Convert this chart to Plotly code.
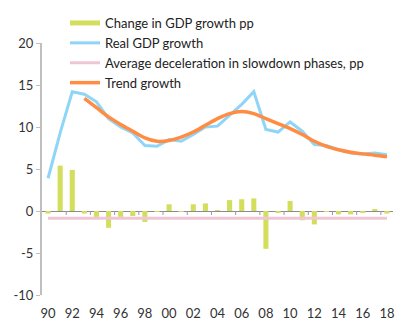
import plotly.graph_objects as go

years = list(range(1990, 2019))
change_pp = [-0.3, 5.4, 4.9, -0.3, -0.7, -2.0, -0.7, -0.6, -1.3, -0.1, 0.8, -0.1, 0.8, 0.9, 0.1,
             1.3, 1.4, 1.5, -4.5, -0.2, 1.2, -1.1, -1.6, -0.1, -0.4, -0.4, -0.2, 0.2, -0.3]
real_gdp = [3.9, 9.3, 14.2, 13.9, 13.0, 11.0, 10.0, 9.3, 7.8, 7.7, 8.5, 8.3, 9.1, 10.0, 10.1,
            11.4, 12.7, 14.2, 9.7, 9.4, 10.6, 9.5, 7.9, 7.8, 7.3, 6.9, 6.8, 6.9, 6.7]
avg_decel = -0.85
trend_years = list(range(1993, 2019))
trend = [13.4, 12.3, 11.2, 10.3, 9.5, 8.7, 8.3, 8.4, 8.8, 9.4, 10.2, 11.0, 11.6, 11.85, 11.6,
         11.0, 10.4, 9.8, 9.1, 8.3, 7.7, 7.3, 7.0, 6.8, 6.65, 6.45]
x_tick_vals = list(range(1990, 2019, 2))
x_tick_text = ["90", "92", "94", "96", "98", "00", "02", "04", "06", "08", "10", "12", "14", "16", "18"]
y_tick_vals = [-10, -5, 0, 5, 10, 15, 20]
y_tick_text = ["-10", "-5", "0", "5", "10", "15", "20"]
zero_tick_positions = [y + 0.5 for y in range(1991, 2018, 2)]

FONT = "Lato"
BAR_COLOR = "#d3df5c"
fig = go.Figure()
fig.add_trace(go.Bar(x=years, y=change_pp, name="Change in GDP growth pp",
                     marker=dict(color=BAR_COLOR, line=dict(width=0)), width=0.42,
                     showlegend=False, legendgroup="bars"))
# legend proxy giving the wide rectangular swatch of the original
fig.add_trace(go.Scatter(x=[None], y=[None], name="Change in GDP growth pp", mode="lines",
                         line=dict(color=BAR_COLOR, width=5), legendgroup="bars"))
fig.add_trace(go.Scatter(x=years, y=real_gdp, name="Real GDP growth", mode="lines",
                         line=dict(color="#8fd5f7", width=3)))
fig.add_trace(go.Scatter(x=years, y=[avg_decel] * len(years), name="Average deceleration in slowdown phases, pp",
                         mode="lines", line=dict(color="#efc6d5", width=3)))
fig.add_trace(go.Scatter(x=trend_years, y=trend, name="Trend growth", mode="lines",
                         line=dict(color="#ff8c42", width=3.5, shape="spline", smoothing=0.8)))

# tick marks hanging below the zero line (category boundaries every two years)
for xv in zero_tick_positions:
    fig.add_shape(type="line", xref="x", yref="y", x0=xv, x1=xv, ysizemode="pixel",
                  yanchor=0, y0=0, y1=-4, line=dict(color="#999999", width=1), layer="above")

xr = [1989.5, 2018.5]
fig.update_layout(
    width=407, height=332,
    margin=dict(l=42, r=14, t=43, b=37, autoexpand=False),
    paper_bgcolor="white", plot_bgcolor="white",
    font=dict(family=FONT, size=13, color="#333333"),
    showlegend=True,
    legend=dict(xref="container", yref="container", x=65 / 407, y=1 - 8 / 332,
                xanchor="left", yanchor="top", bgcolor="rgba(0,0,0,0)",
                font=dict(family=FONT, size=13, color="#222222"), traceorder="normal"),
    xaxis=dict(range=xr, tickvals=x_tick_vals, ticktext=x_tick_text, showgrid=False,
               zeroline=False, showline=False, ticks="outside", ticklen=6,
               tickcolor="rgba(0,0,0,0)"),
    yaxis=dict(range=[-10, 20], tickvals=y_tick_vals, ticktext=y_tick_text, showgrid=False,
               zeroline=True, zerolinecolor="#8c8c8c", zerolinewidth=1,
               showline=True, linecolor="#bfbfbf", linewidth=2, ticks="outside", ticklen=4,
               tickcolor="#bfbfbf"),
)
fig.write_html("out.html")
